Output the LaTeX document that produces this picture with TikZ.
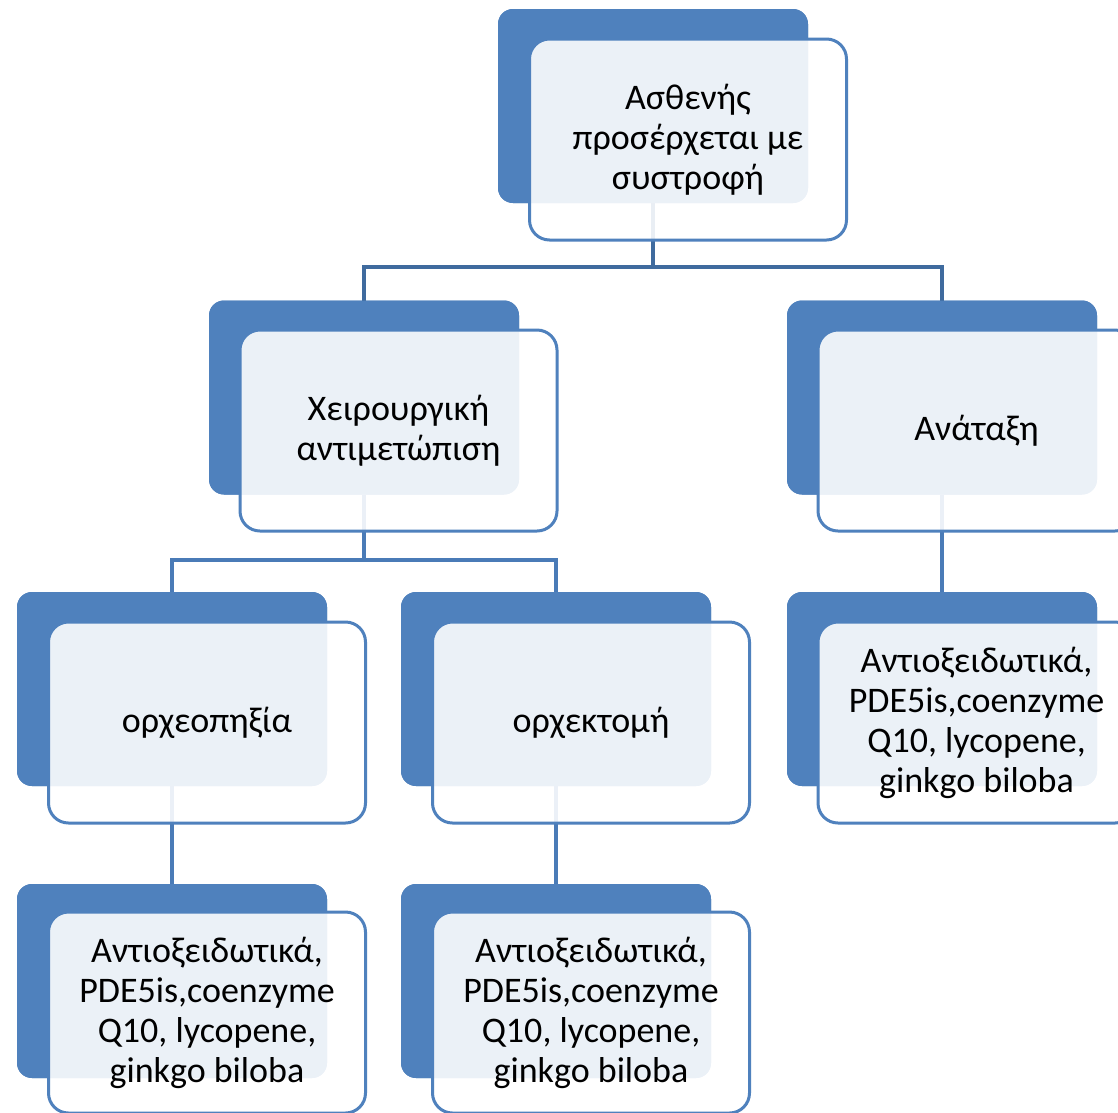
\documentclass[tikz,border=0pt]{standalone}
\usepackage{fontspec}
\setmainfont{Carlito}
\definecolor{accent}{HTML}{4F81BD}
\definecolor{connA}{HTML}{3F6B9E}
\definecolor{connB}{HTML}{4A7BB7}
\begin{document}
\begin{tikzpicture}[x=1pt,y=-1pt,
  backbox/.style={draw=none,fill=accent,rounded corners=15pt,minimum width=310pt,minimum height=194pt,inner sep=0pt,outer sep=0pt},
  frontbox/.style={draw=accent,line width=3pt,fill=white,fill opacity=0.89,text opacity=1,rounded corners=20pt,minimum width=317pt,minimum height=201pt,inner sep=0pt,outer sep=0pt,align=center,font=\fontsize{36}{40}\selectfont,text=black},
  connone/.style={draw=connA,line width=3.5pt},
  conntwo/.style={draw=connB,line width=3.5pt}]
\useasboundingbox (0,0) rectangle (1118,1112);
\fill[white] (0,0) rectangle (1118,1112);
% back boxes
\node[backbox] (b0) at (653,106) {};
\node[backbox] (bL) at (364,397.5) {};
\node[backbox] (bR) at (942,397.5) {};
\node[backbox] (b31) at (172,689) {};
\node[backbox] (b32) at (556,689) {};
\node[backbox] (b33) at (942,689) {};
\node[backbox] (b41) at (172,981) {};
\node[backbox] (b42) at (556,981) {};
% junction points
\coordinate (j0) at (653,267);
\coordinate (j1) at (364,560);
% connectors (under the front boxes)
\begin{scope}[on background layer/.style={}]
\draw[connone] (b0.south) -- (j0);
\draw[connone] (bL.north) |- (j0) -| (bR.north);
\draw[conntwo] (bL.south) -- (j1);
\draw[conntwo] (b31.north) |- (j1) -| (b32.north);
\draw[conntwo] (bR.south) -- (b33.north);
\draw[conntwo] (b31.south) -- (b41.north);
\draw[conntwo] (b32.south) -- (b42.north);
\end{scope}
% redraw back boxes over connectors
\node[backbox] at (b0) {};
\node[backbox] at (bL) {};
\node[backbox] at (bR) {};
\node[backbox] at (b31) {};
\node[backbox] at (b32) {};
\node[backbox] at (b33) {};
\node[backbox] at (b41) {};
\node[backbox] at (b42) {};
% front boxes
\node[frontbox] (f0) at (688,139.5) {Ασθενής\\προσέρχεται με\\συστροφή};
\node[frontbox] (fL) at (398.5,430.5) {Χειρουργική\\αντιμετώπιση};
\node[frontbox] (fR) at (976.5,430.5) {Ανάταξη};
\node[frontbox] (f31) at (207,722.5) {ορχεοπηξία};
\node[frontbox] (f32) at (591,722.5) {ορχεκτομή};
\node[frontbox] (f33) at (976.5,722.5) {Αντιοξειδωτικά,\\PDE5is,coenzyme\\Q10, lycopene,\\ginkgo biloba};
\node[frontbox] (f41) at (207,1012.5) {Αντιοξειδωτικά,\\PDE5is,coenzyme\\Q10, lycopene,\\ginkgo biloba};
\node[frontbox] (f42) at (591,1012.5) {Αντιοξειδωτικά,\\PDE5is,coenzyme\\Q10, lycopene,\\ginkgo biloba};
\end{tikzpicture}
\end{document}
